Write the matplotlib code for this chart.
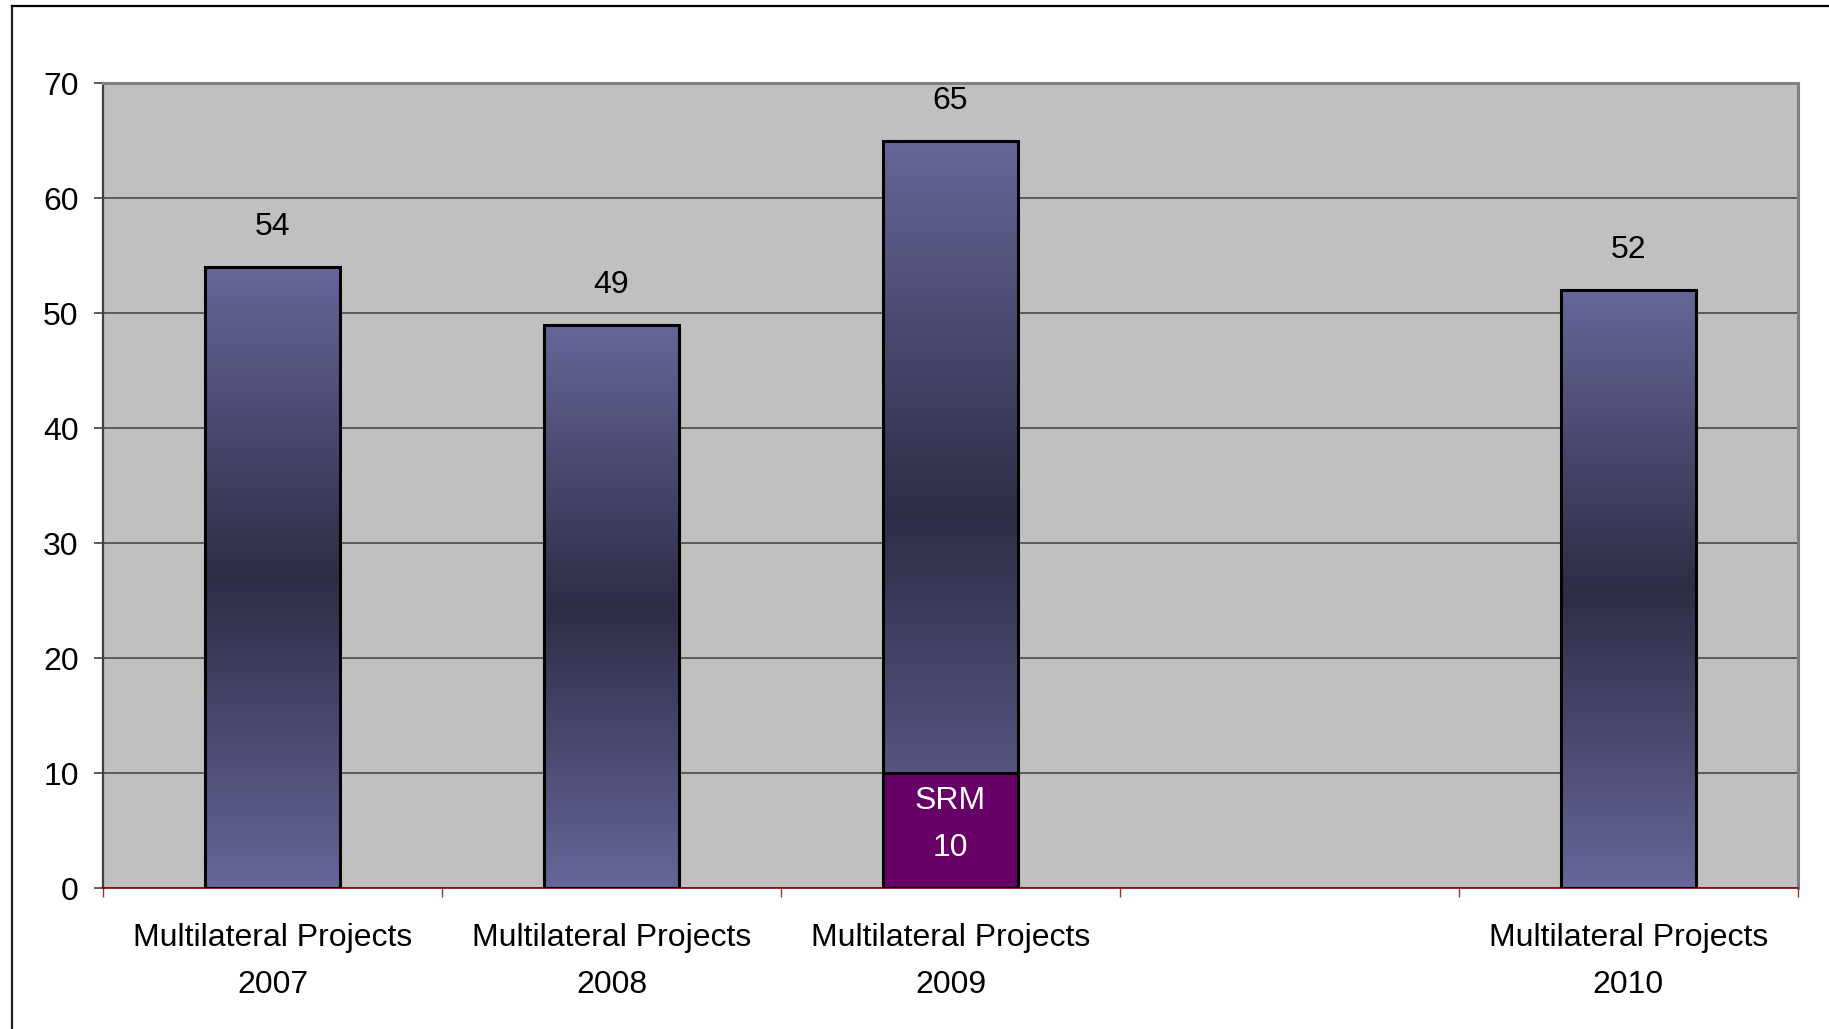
import numpy as np
import matplotlib
matplotlib.use("Agg")
import matplotlib.pyplot as plt
from matplotlib.colors import LinearSegmentedColormap
from matplotlib.lines import Line2D

plt.rcParams['font.family'] = ['Liberation Sans', 'DejaVu Sans']

# chart data
categories = ['Multilateral Projects\n2007', 'Multilateral Projects\n2008',
              'Multilateral Projects\n2009', '', 'Multilateral Projects\n2010']
totals = [54, 49, 65, 0, 52]
srm = [0, 0, 10, 0, 0]
yticks = [0, 10, 20, 30, 40, 50, 60, 70]

bar_light = '#666699'
bar_dark = '#2d2d46'
srm_color = '#660066'
fs = 23

grad = LinearSegmentedColormap.from_list('bar', [bar_light, bar_dark, bar_light])

fig = plt.figure(figsize=(18.29, 10.29), dpi=100)
ax = fig.add_axes([0.0563, 0.137, 0.9267, 0.782])
ax.set_facecolor('#c0c0c0')

n = len(categories)
width = 0.4
centers = np.arange(n) + 0.5

for i, (x, total, s) in enumerate(zip(centers, totals, srm)):
    if total == 0:
        continue
    # outline bar, then gradient image clipped to it
    rect = ax.bar(x, total, width, facecolor='none', edgecolor='black',
                  linewidth=2.2, zorder=4)[0]
    img = ax.imshow(np.linspace(0, 1, 256).reshape(-1, 1), cmap=grad, aspect='auto',
                    extent=[x - width / 2, x + width / 2, 0, total], origin='lower',
                    zorder=3, interpolation='bicubic')
    img.set_clip_path(rect)
    if s:
        ax.bar(x, s, width, color=srm_color, edgecolor='black', linewidth=2.2, zorder=5)
        ax.text(x, s / 2 + 0.55, 'SRM\n%d' % s, ha='center', va='center', color='white',
                fontsize=fs, linespacing=1.72, zorder=6)
    ax.annotate(str(total), (x, total), xytext=(0, 23), textcoords='offset points',
                ha='center', va='baseline', fontsize=fs, zorder=6)

ax.set_xlim(0, n)
ax.set_ylim(0, 70)
ax.set_yticks(yticks)
ax.yaxis.grid(True, color='#4a4a4a', linewidth=1.2)
ax.set_axisbelow(True)
ax.tick_params(axis='y', labelsize=fs, length=6.5, width=1.2, color='#404040', pad=11)

# category boundaries carry the ticks, centres carry the labels
ax.set_xticks(np.arange(n + 1))
ax.set_xticklabels([])
ax.tick_params(axis='x', which='major', length=6.5, width=1, color='#a03030')
ax.set_xticks(centers, minor=True)
ax.set_xticklabels(categories, minor=True, fontsize=fs, linespacing=1.72)
ax.tick_params(axis='x', which='minor', length=0, pad=25.5)

ax.spines['bottom'].set_color('#8b0000')
ax.spines['bottom'].set_linewidth(1.2)
ax.spines['left'].set_color('#404040')
ax.spines['left'].set_linewidth(1.6)
for side in ('top', 'right'):
    ax.spines[side].set_color('#808080')
    ax.spines[side].set_linewidth(2.2)

# outer frame lines
fig.add_artist(Line2D([12 / 1829, 12 / 1829], [0, 1 - 6 / 1029], color='#202020',
                      linewidth=1.6, transform=fig.transFigure))
fig.add_artist(Line2D([12 / 1829, 1], [1 - 6 / 1029, 1 - 6 / 1029], color='black',
                      linewidth=1.6, transform=fig.transFigure))

fig.savefig('out.png', dpi=100, facecolor='white')
